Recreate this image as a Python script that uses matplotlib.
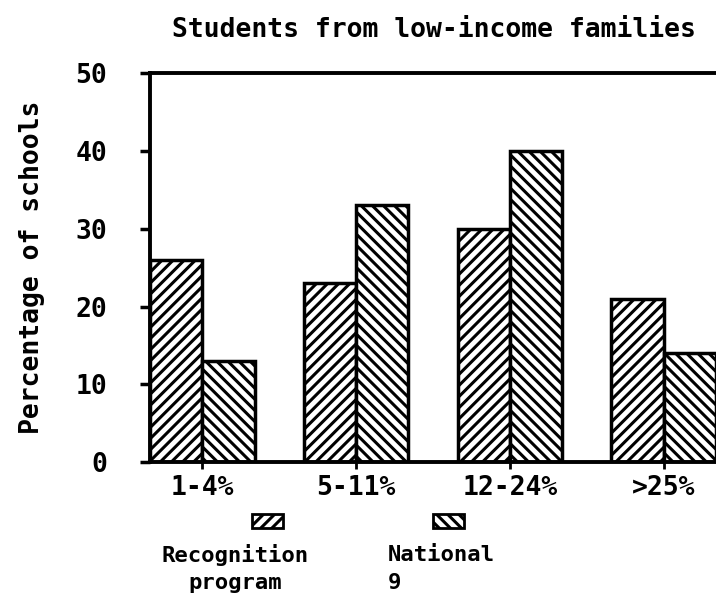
import numpy as np
import matplotlib.pyplot as plt
from matplotlib.patches import Rectangle

categories = ["1-4%", "5-11%", "12-24%", ">25%"]
recognition = [26, 23, 30, 21]
national = [13, 33, 40, 14]
yticks = [0, 10, 20, 30, 40, 50]

plt.rcParams['font.family'] = ['DejaVu Sans Mono']
plt.rcParams['font.weight'] = 'bold'
plt.rcParams['hatch.linewidth'] = 2.2

fig = plt.figure(figsize=(7.16, 6.05), dpi=100)
ax = fig.add_axes([0.2095, 0.236, 0.7905, 0.643])

x = np.arange(len(categories))
w = 0.34
ax.bar(x - w / 2, recognition, width=w, facecolor='white', edgecolor='black',
       hatch='///', linewidth=2.5)
ax.bar(x + w / 2, national, width=w, facecolor='white', edgecolor='black',
       hatch='\\\\\\', linewidth=2.5)

ax.set_xlim(-w, len(categories) - 1 + w)
ax.set_ylim(0, 50)
ax.set_yticks(yticks)
ax.set_yticklabels([str(t) for t in yticks], fontsize=19, fontweight='bold')
ax.set_xticks(x)
ax.set_xticklabels(categories, fontsize=19, fontweight='bold')
ax.tick_params(axis='y', direction='out', length=7, width=2.5, pad=24)
ax.tick_params(axis='x', direction='inout', length=10, width=2, pad=4)
ax.spines['right'].set_visible(False)
for s in ['left', 'top', 'bottom']:
    ax.spines[s].set_linewidth(2.8)

ax.set_ylabel("Percentage of schools", fontsize=19, fontweight='bold', labelpad=22)
fig.text(0.606, 0.95, "Students from low-income families", ha='center', va='center',
         fontsize=19, fontweight='bold')

# legend
fig.patches.append(Rectangle((0.352, 0.128), 0.043, 0.022, transform=fig.transFigure,
                             facecolor='white', edgecolor='black', hatch='///', linewidth=2))
fig.patches.append(Rectangle((0.605, 0.128), 0.043, 0.022, transform=fig.transFigure,
                             facecolor='white', edgecolor='black', hatch='\\\\\\', linewidth=2))
fig.text(0.328, 0.082, "Recognition", ha='center', va='center', fontsize=16, fontweight='bold')
fig.text(0.328, 0.036, "program", ha='center', va='center', fontsize=16, fontweight='bold')
fig.text(0.542, 0.082, "National", ha='left', va='center', fontsize=16, fontweight='bold')
fig.text(0.542, 0.036, "9", ha='left', va='center', fontsize=16, fontweight='bold')

fig.savefig("out.png", dpi=100)
